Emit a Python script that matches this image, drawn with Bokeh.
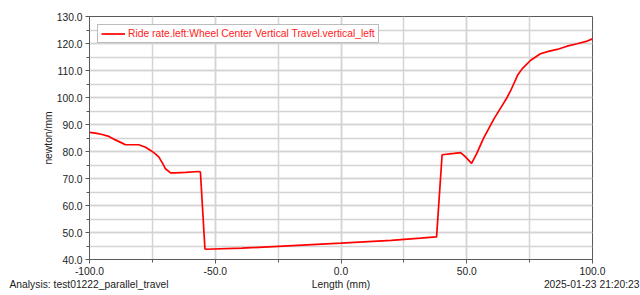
from bokeh.plotting import figure
from bokeh.layouts import column
from bokeh.models import (Range1d, SingleIntervalTicker, PrintfTickFormatter,
                          Legend, LegendItem, Label)
from bokeh.embed import file_html
from bokeh.resources import INLINE

# ---- data ----
length_mm = [-100, -97.6, -95, -92.3, -89.7, -87, -85.7, -80.4, -77.7, -75.7,
             -73.8, -72.4, -70.8, -69.8, -67.8, -65.8, -61.8, -56.5, -55.9,
             -54.1, -53.9, -39.4, 0, 20, 31.6, 38.0, 40.2, 45.0, 47.6, 49.5,
             51.9, 54.0, 56.6, 60.8, 64.0, 66.1, 67.5, 68.7, 70.2, 72.0, 75.3,
             79.3, 82.5, 85.9, 89.9, 93.9, 97.9, 100]
ride_rate = [87.1, 86.8, 86.3, 85.6, 84.3, 83.1, 82.5, 82.5, 81.6, 80.4,
             79.1, 77.9, 75.4, 73.6, 72.1, 72.1, 72.3, 72.6, 72.4,
             44.0, 43.8, 44.2, 46.05, 47.1, 47.9, 48.4, 78.8, 79.3, 79.6, 78.0,
             75.6, 79.3, 84.8, 92.1, 96.9, 100.1, 102.6, 105.1, 108.2, 110.6, 113.7,
             116.2, 117.1, 117.8, 119.0, 119.9, 120.9, 121.7]

legend_label = "Ride rate.left:Wheel Center Vertical Travel.vertical_left"
x_title = "Length (mm)"
y_title = "newton/mm"
analysis_text = "Analysis:  test01222_parallel_travel"
stamp_text = "2025-01-23 21:20:23"

FONT = "Liberation Sans"
FS = "10.3px"
TXT_COL = "#222222"
AXIS_COL = "#5a5a5a"
GRID_COL = "#d4d4d4"

# ---- main chart ----
p = figure(width=640, height=278, output_backend="svg", toolbar_location=None,
           x_range=Range1d(-100, 100), y_range=Range1d(40, 130),
           min_border_left=89, min_border_right=48, min_border_top=16,
           min_border_bottom=19)
p.frame_align = False
p.background_fill_color = "white"
p.border_fill_color = "white"
p.outline_line_color = AXIS_COL
p.outline_line_width = 1

r = p.line(length_mm, ride_rate, line_color="#ff0000", line_width=1.7)

p.xaxis.ticker = SingleIntervalTicker(interval=50, num_minor_ticks=2)
p.yaxis.ticker = SingleIntervalTicker(interval=10, num_minor_ticks=2)
for ax in (p.xaxis, p.yaxis):
    ax.formatter = PrintfTickFormatter(format="%.1f")
    ax.axis_line_color = AXIS_COL
    ax.major_tick_line_color = AXIS_COL
    ax.minor_tick_line_color = AXIS_COL
    ax.major_tick_in = 0
    ax.minor_tick_in = 0
    ax.major_tick_out = 4
    ax.minor_tick_out = 3
    ax.major_label_text_font = FONT
    ax.major_label_text_font_size = FS
    ax.major_label_text_color = TXT_COL
    ax.axis_label_text_font = FONT
    ax.axis_label_text_font_size = FS
    ax.axis_label_text_font_style = "normal"
    ax.axis_label_text_color = TXT_COL

p.yaxis.axis_label = y_title
p.xaxis.major_label_standoff = 3
p.yaxis.major_label_standoff = 3
p.yaxis.axis_label_standoff = 0

for g in (p.xgrid, p.ygrid):
    g.grid_line_color = GRID_COL
    g.grid_line_width = 1.5
    g.minor_grid_line_color = GRID_COL
    g.minor_grid_line_width = 1.5

legend = Legend(items=[LegendItem(label=legend_label, renderers=[r])],
                location="top_left", margin=8, padding=3, spacing=0,
                glyph_width=24, glyph_height=11, label_height=11,
                label_standoff=3,
                label_text_font=FONT, label_text_font_size=FS,
                label_text_color="#ff2020",
                border_line_color="#7a7a7a", border_line_width=1.5,
                background_fill_color="white", background_fill_alpha=1.0)
p.add_layout(legend, "center")

# ---- footer row: x-axis title, analysis name, time stamp ----
f = figure(width=640, height=17, output_backend="svg", toolbar_location=None,
           title=None, x_axis_location=None, y_axis_location=None,
           x_range=Range1d(0, 640), y_range=Range1d(0, 17), min_border=0)
f.frame_align = False
f.grid.visible = False
f.outline_line_color = None
f.background_fill_color = "white"
f.border_fill_color = "white"

for txt, xx, al in ((analysis_text, 9, "left"),
                    (x_title, 340.5, "center"),
                    (stamp_text, 639, "right")):
    f.add_layout(Label(x=xx, y=11, text=txt, text_font=FONT, text_font_size=FS,
                       text_color=TXT_COL, text_baseline="middle",
                       text_align=al))

layout = column(p, f, spacing=0)
open("out.html", "w").write(file_html(layout, INLINE))
